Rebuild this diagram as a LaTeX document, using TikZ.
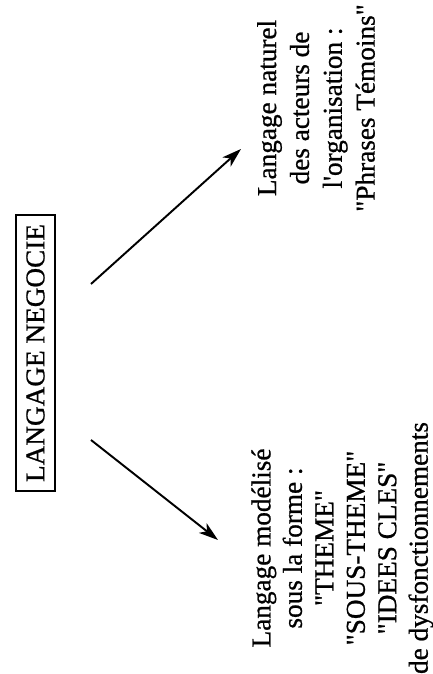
\documentclass[tikz,border=0pt]{standalone}
\usepackage{fontspec}
\setmainfont[FakeBold=0.8]{Liberation Serif}
\usetikzlibrary{arrows.meta}
\begin{document}
\begin{tikzpicture}[>={Stealth[length=11pt, width=7pt, inset=3pt]}]
            % 1. Fix the page to the size of the scan
            \useasboundingbox (0,0) rectangle (8.66,13.48);

            % 2. The central box, written from bottom to top
            \node[draw, line width=1pt, rotate=90, font=\fontsize{15.5}{18}\selectfont,
                minimum width=5.52cm, minimum height=0.78cm, inner sep=0pt] (negocie) at (0.71,6.42) {LANGAGE NEGOCIE};

            % 3. The two texts on the right
            \node[rotate=90, align=center, font=\fontsize{15.5}{18.7}\selectfont] (naturel) at (6.32,11.32)
                {Langage naturel\\des acteurs de\\l\textquotesingle organisation :\\\textquotedbl Phrases Témoins\textquotedbl};
            \node[rotate=90, align=center, font=\fontsize{15.5}{17.9}\selectfont] (modelise) at (6.85,2.52)
                {Langage modélisé\\sous la forme :\\\textquotedbl THEME\textquotedbl\\\textquotedbl SOUS-THEME\textquotedbl\\\textquotedbl IDEES CLES\textquotedbl\\de dysfonctionnements};

            % 4. Free ends of the arrows
            \coordinate (up0) at (1.82,7.80);
            \coordinate (up1) at (4.82,10.50);
            \coordinate (down0) at (1.82,4.68);
            \coordinate (down1) at (4.36,2.68);

            % 5. Draw the arrows
            \draw[->, line width=1.1pt] (up0) -- (up1);
            \draw[->, line width=1.1pt] (down0) -- (down1);

        \end{tikzpicture}
\end{document}
